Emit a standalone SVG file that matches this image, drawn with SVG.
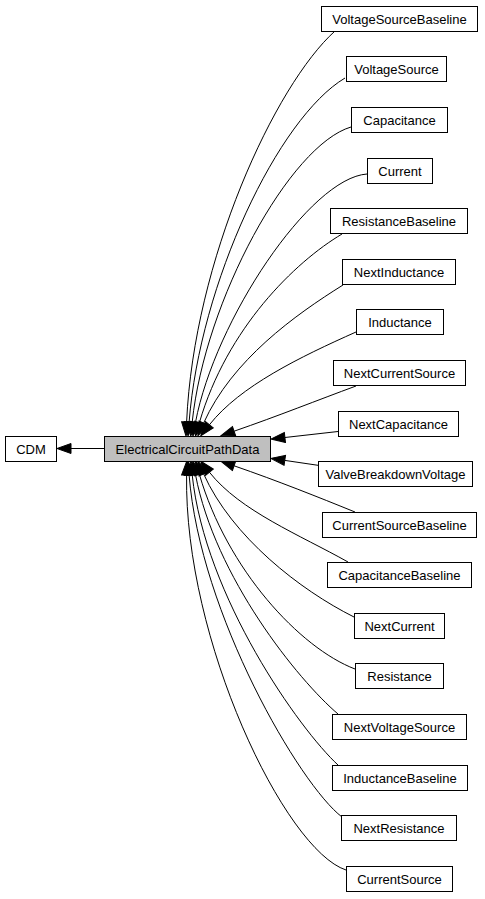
<svg xmlns="http://www.w3.org/2000/svg" width="485" height="899" viewBox="0 0 485 899">
<style>
.node rect{fill:#ffffff;stroke:#000000;stroke-width:1}
.node.main rect{fill:#bfbfbf}
.node text{font-family:"Liberation Sans",Arial,sans-serif;font-size:13px;fill:#000000;text-anchor:middle}
.edges path{fill:none;stroke:#000000;stroke-width:1;marker-end:url(#ah)}
</style>
<defs>
<marker id="ah" markerUnits="userSpaceOnUse" markerWidth="16" markerHeight="12" refX="0" refY="5" orient="auto" overflow="visible">
<path d="M0,0 L14,5 L0,10 z" fill="#000000" stroke="#000000" stroke-width="1"/>
</marker>
</defs>
<rect width="485" height="899" fill="#ffffff"/>
<g id="edges" class="edges">
<path d="M104,448.5 L71,448.5"/>
<path d="M335,31 C275,85 194,260 186.6,422"/>
<path d="M345,78 C278,118 200,283 189.1,422"/>
<path d="M351,127 C290,145 205,300 192.2,422.1"/>
<path d="M367,174 C310,178 215,320 195.5,422.3"/>
<path d="M342,234 C295,262 227,328 199.4,422.6"/>
<path d="M343,285 C295,315 232,360 203.6,423.1"/>
<path d="M356,332 C300,357 240,386 209.4,424.8"/>
<path d="M356,386 C318,400 278,416 234.1,431.2"/>
<path d="M338,431.5 L284.9,437.5"/>
<path d="M318,465.3 L284.8,460.4"/>
<path d="M355,512 C318,497 278,481 234.1,465.8"/>
<path d="M348,562 C300,535 240,511 209.4,472.2"/>
<path d="M354,617 C300,590 232,537 203.6,473.9"/>
<path d="M355,669 C300,648 227,569.5 199.4,474.4"/>
<path d="M338,714 C298,680 215,577 195.5,474.7"/>
<path d="M338,765 C300,730 205,597 192.2,474.9"/>
<path d="M342,817 C300,785 200,614 189.1,475"/>
<path d="M346,870 C285,850 184,640 186.6,475"/>
</g>
<g id="node-cdm" class="node"><rect x="5.5" y="436.5" width="51" height="25"/><text x="31" y="453.5">CDM</text></g>
<g id="node-main" class="node main"><rect x="104.5" y="436.5" width="166" height="25"/><text x="187.5" y="453.5">ElectricalCircuitPathData</text></g>
<g id="node-vsb" class="node"><rect x="321.5" y="6.5" width="156" height="25"/><text x="399.5" y="23.5">VoltageSourceBaseline</text></g>
<g id="node-vs" class="node"><rect x="346.5" y="56.5" width="100" height="25"/><text x="396.5" y="73.5">VoltageSource</text></g>
<g id="node-cap" class="node"><rect x="351.5" y="107.5" width="96" height="25"/><text x="399.5" y="124.5">Capacitance</text></g>
<g id="node-current" class="node"><rect x="367.5" y="158.5" width="65" height="25"/><text x="400" y="175.5">Current</text></g>
<g id="node-rb" class="node"><rect x="330.5" y="208.5" width="137" height="25"/><text x="399" y="225.5">ResistanceBaseline</text></g>
<g id="node-ni" class="node"><rect x="342.5" y="259.5" width="113" height="25"/><text x="399" y="276.5">NextInductance</text></g>
<g id="node-ind" class="node"><rect x="356.5" y="309.5" width="87" height="25"/><text x="400" y="326.5">Inductance</text></g>
<g id="node-ncs" class="node"><rect x="333.5" y="360.5" width="132" height="25"/><text x="399.5" y="377.5">NextCurrentSource</text></g>
<g id="node-ncap" class="node"><rect x="338.5" y="411.5" width="120" height="25"/><text x="398.5" y="428.5">NextCapacitance</text></g>
<g id="node-vbv" class="node"><rect x="318.5" y="461.5" width="154" height="25"/><text x="395.5" y="478.5">ValveBreakdownVoltage</text></g>
<g id="node-csb" class="node"><rect x="322.5" y="512.5" width="154" height="25"/><text x="399.5" y="529.5">CurrentSourceBaseline</text></g>
<g id="node-capb" class="node"><rect x="327.5" y="562.5" width="144" height="25"/><text x="399.5" y="579.5">CapacitanceBaseline</text></g>
<g id="node-nc" class="node"><rect x="354.5" y="613.5" width="90" height="25"/><text x="399.5" y="630.5">NextCurrent</text></g>
<g id="node-res" class="node"><rect x="355.5" y="663.5" width="88" height="25"/><text x="399.5" y="680.5">Resistance</text></g>
<g id="node-nvs" class="node"><rect x="332.5" y="714.5" width="134" height="25"/><text x="399.5" y="731.5">NextVoltageSource</text></g>
<g id="node-ib" class="node"><rect x="332.5" y="765.5" width="135" height="25"/><text x="400" y="782.5">InductanceBaseline</text></g>
<g id="node-nr" class="node"><rect x="341.5" y="815.5" width="115" height="25"/><text x="399" y="832.5">NextResistance</text></g>
<g id="node-cs" class="node"><rect x="346.5" y="866.5" width="106" height="25"/><text x="399.5" y="883.5">CurrentSource</text></g>
</svg>
